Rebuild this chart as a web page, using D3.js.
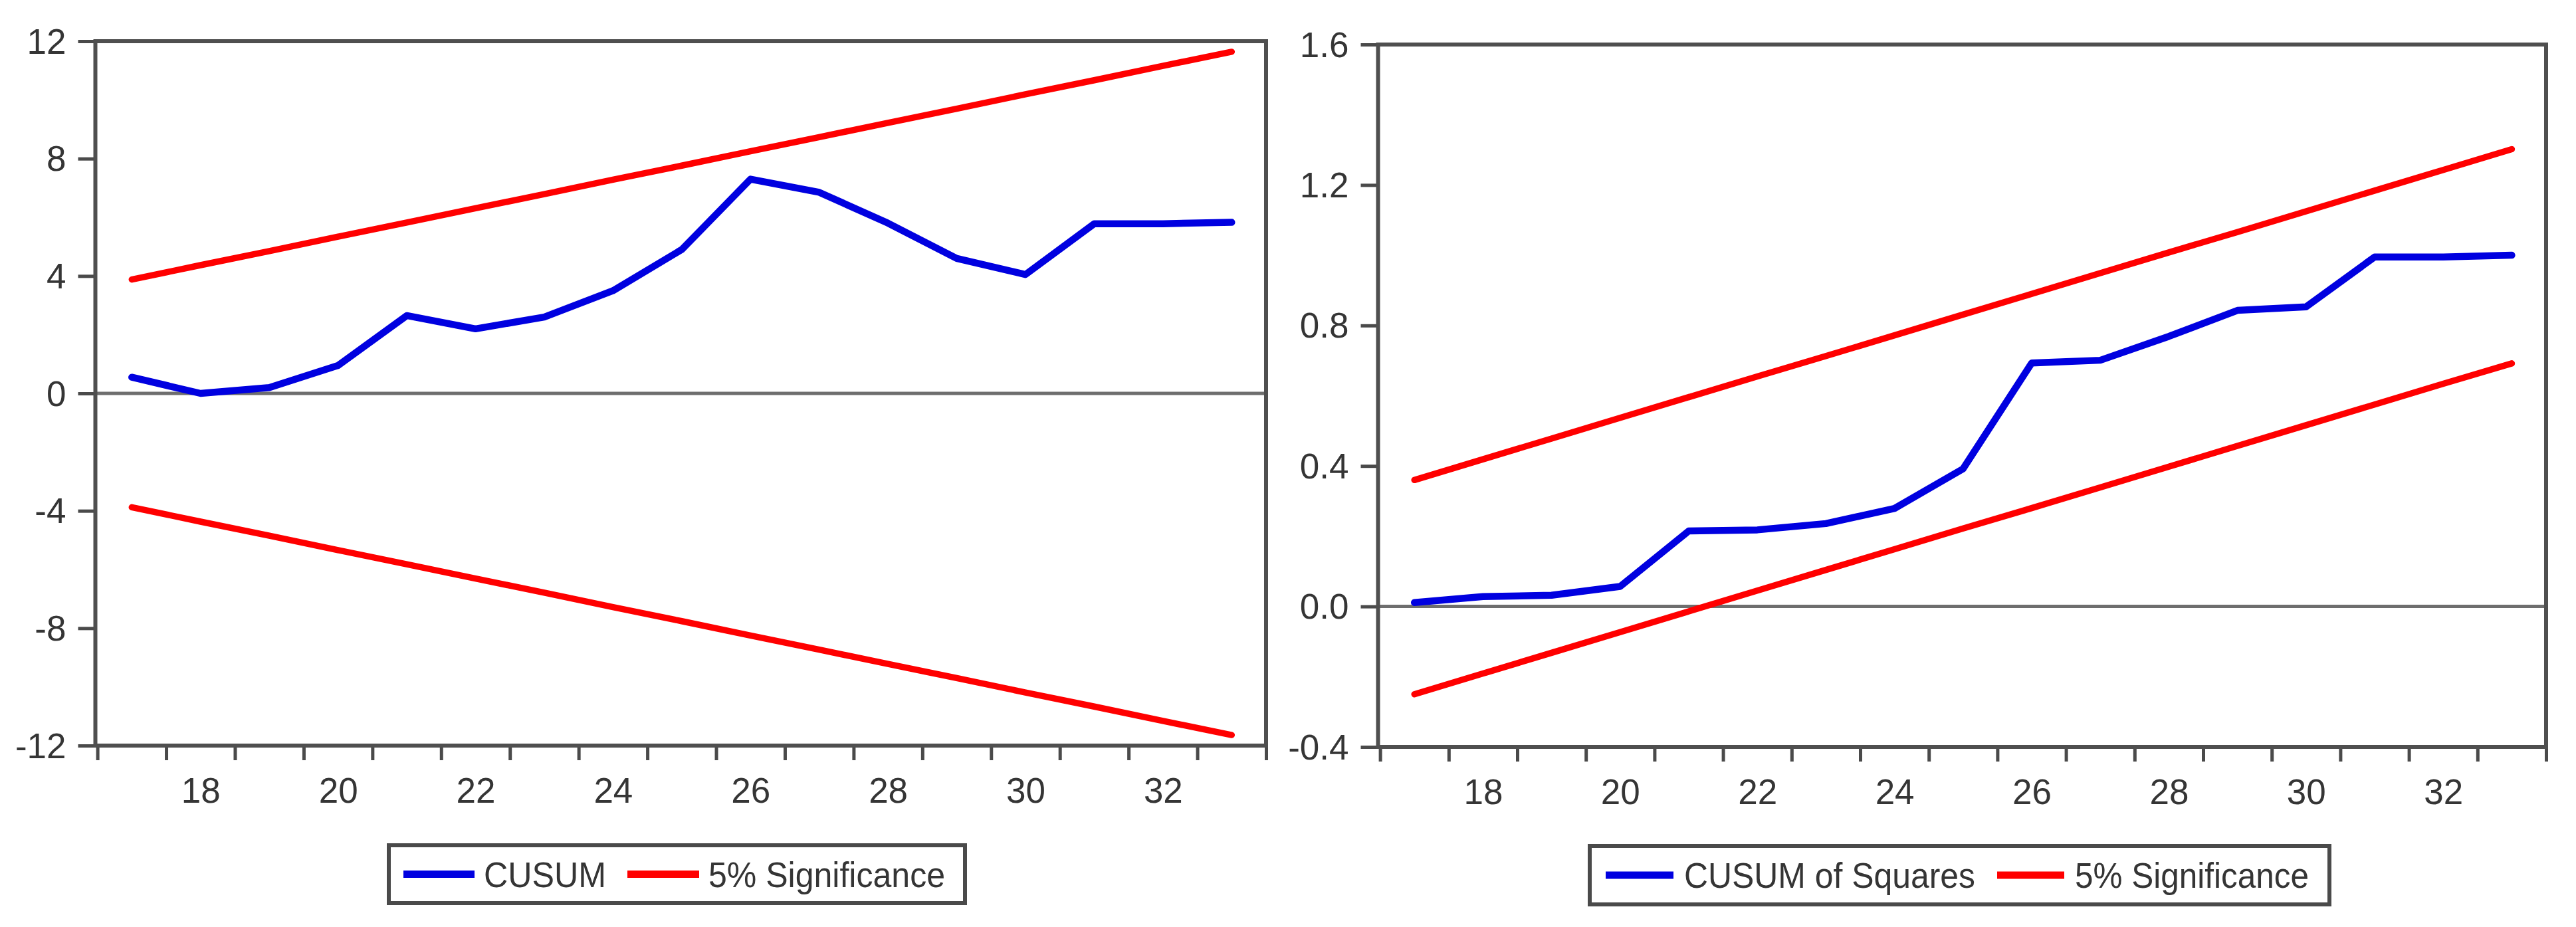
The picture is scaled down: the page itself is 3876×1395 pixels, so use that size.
<!DOCTYPE html>
<html>
<head>
<meta charset="utf-8">
<script src="https://cdn.jsdelivr.net/npm/d3@7"></script>
<style>
  html, body { margin: 0; padding: 0; background: #fff; }
  svg { display: block; }
  text { font-family: "Liberation Sans", Arial, sans-serif; fill: #353535; }
</style>
</head>
<body>
<script>
// observations on the x axis
var obs = [17, 18, 19, 20, 21, 22, 23, 24, 25, 26, 27, 28, 29, 30, 31, 32, 33];
var xLabels = [18, 20, 22, 24, 26, 28, 30, 32];
var xTicks = [16.5, 17.5, 18.5, 19.5, 20.5, 21.5, 22.5, 23.5, 24.5, 25.5, 26.5, 27.5, 28.5, 29.5, 30.5, 31.5, 32.5, 33.5];

// CUSUM test
var cusum = [0.55, 0.0, 0.2, 0.95, 2.65, 2.2, 2.6, 3.5, 4.9, 7.3, 6.85, 5.8, 4.6, 4.05, 5.78, 5.78, 5.83];
var cusumUpper = [3.88, 4.37, 4.85, 5.34, 5.82, 6.31, 6.79, 7.28, 7.76, 8.25, 8.73, 9.22, 9.70, 10.19, 10.67, 11.16, 11.64];
var cusumLower = [-3.88, -4.37, -4.85, -5.34, -5.82, -6.31, -6.79, -7.28, -7.76, -8.25, -8.73, -9.22, -9.70, -10.19, -10.67, -11.16, -11.64];
var cusumTicks = [-12, -8, -4, 0, 4, 8, 12];

// CUSUM of squares test
var cusumSq = [0.011, 0.028, 0.032, 0.057, 0.215, 0.218, 0.236, 0.279, 0.392, 0.693, 0.701, 0.769, 0.843, 0.853, 0.995, 0.995, 1.0];
var cusumSqUpper = [0.360, 0.419, 0.478, 0.537, 0.596, 0.655, 0.713, 0.772, 0.831, 0.890, 0.949, 1.008, 1.066, 1.125, 1.184, 1.243, 1.302];
var cusumSqLower = [-0.250, -0.191, -0.132, -0.073, -0.014, 0.045, 0.104, 0.163, 0.222, 0.280, 0.339, 0.398, 0.457, 0.516, 0.575, 0.634, 0.692];
var cusumSqTicks = [-0.4, 0.0, 0.4, 0.8, 1.2, 1.6];

var svg = d3.select("body").append("svg")
    .attr("width", 3876)
    .attr("height", 1395);

function drawPanel(p) {
  var g = svg.append("g");

  var x = d3.scaleLinear().domain([16.47, 33.5]).range([p.left, p.right]);
  var y = d3.scaleLinear().domain([p.yTicks[0], p.yTicks[p.yTicks.length - 1]]).range([p.bottom, p.top]);

  // y axis ticks + labels
  var yAxis = g.append("g")
      .attr("transform", "translate(" + p.left + ",0)")
      .call(d3.axisLeft(y).tickValues(p.yTicks).tickSize(26).tickPadding(18).tickFormat(p.fmt));
  yAxis.select(".domain").remove();
  yAxis.selectAll(".tick line").attr("stroke", "#4a4a4a").attr("stroke-width", 5);
  yAxis.selectAll(".tick text")
      .attr("font-size", 53)
      .attr("font-family", "Liberation Sans, Arial, sans-serif")
      .attr("fill", "#353535")
      .attr("dy", "0.34em");

  // x axis ticks (half observations) and labels
  var xAxis = g.append("g")
      .attr("transform", "translate(0," + p.bottom + ")")
      .call(d3.axisBottom(x).tickValues(xTicks).tickSize(22).tickFormat(""));
  xAxis.select(".domain").remove();
  xAxis.selectAll(".tick line").attr("stroke", "#4a4a4a").attr("stroke-width", 5);

  var xLab = g.append("g")
      .attr("transform", "translate(0," + p.bottom + ")")
      .call(d3.axisBottom(x).tickValues(xLabels).tickSize(0).tickPadding(48).tickFormat(d3.format("d")));
  xLab.select(".domain").remove();
  xLab.selectAll(".tick text")
      .attr("font-size", 53)
      .attr("font-family", "Liberation Sans, Arial, sans-serif")
      .attr("fill", "#353535");

  // zero line
  g.append("line")
      .attr("x1", p.left).attr("x2", p.right)
      .attr("y1", y(0)).attr("y2", y(0))
      .attr("stroke", "#6e6e6e").attr("stroke-width", 5);

  var line = d3.line()
      .x(function(d, i) { return x(obs[i]); })
      .y(function(d) { return y(d); });

  g.append("path").datum(p.upper)
      .attr("d", line).attr("fill", "none")
      .attr("stroke", "#ff0000").attr("stroke-width", 9.5)
      .attr("stroke-linecap", "round").attr("stroke-linejoin", "round");
  g.append("path").datum(p.lower)
      .attr("d", line).attr("fill", "none")
      .attr("stroke", "#ff0000").attr("stroke-width", 9.5)
      .attr("stroke-linecap", "round").attr("stroke-linejoin", "round");
  g.append("path").datum(p.series)
      .attr("d", line).attr("fill", "none")
      .attr("stroke", "#0000e0").attr("stroke-width", 10.5)
      .attr("stroke-linecap", "round").attr("stroke-linejoin", "round");

  // plot frame
  g.append("rect")
      .attr("x", p.left).attr("y", p.top)
      .attr("width", p.right - p.left).attr("height", p.bottom - p.top)
      .attr("fill", "none").attr("stroke", "#4f4f4f").attr("stroke-width", 6);

  // legend
  var lg = g.append("g");
  lg.append("rect")
      .attr("x", p.legend.x).attr("y", p.legend.y)
      .attr("width", p.legend.w).attr("height", p.legend.h)
      .attr("fill", "#fff").attr("stroke", "#4a4a4a").attr("stroke-width", 6);
  var cy = p.legend.y + p.legend.h / 2;
  p.legend.items.forEach(function(it) {
    lg.append("line")
        .attr("x1", it.x).attr("x2", it.x + it.sw)
        .attr("y1", cy).attr("y2", cy)
        .attr("stroke", it.color).attr("stroke-width", 11);
    lg.append("text")
        .attr("x", it.tx).attr("y", cy)
        .attr("dy", "0.36em")
        .attr("font-size", 53)
        .attr("textLength", it.tw)
        .attr("lengthAdjust", "spacingAndGlyphs")
        .text(it.label);
  });
}

drawPanel({
  left: 143.5, right: 1905, top: 62, bottom: 1122,
  yTicks: cusumTicks,
  fmt: function(d) { return String(d); },
  series: cusum, upper: cusumUpper, lower: cusumLower,
  legend: {
    x: 585, y: 1272, w: 867, h: 87,
    items: [
      { label: "CUSUM", color: "#0000e0", x: 607, sw: 107, tx: 728, tw: 184 },
      { label: "5% Significance", color: "#ff0000", x: 944, sw: 108, tx: 1066, tw: 356 }
    ]
  }
});

drawPanel({
  left: 2073.5, right: 3831, top: 67, bottom: 1124,
  yTicks: cusumSqTicks,
  fmt: function(d) { return d.toFixed(1); },
  series: cusumSq, upper: cusumSqUpper, lower: cusumSqLower,
  legend: {
    x: 2392, y: 1273, w: 1113, h: 88,
    items: [
      { label: "CUSUM of Squares", color: "#0000e0", x: 2416, sw: 102, tx: 2534, tw: 438 },
      { label: "5% Significance", color: "#ff0000", x: 3005, sw: 101, tx: 3122, tw: 352 }
    ]
  }
});
</script>
</body>
</html>
